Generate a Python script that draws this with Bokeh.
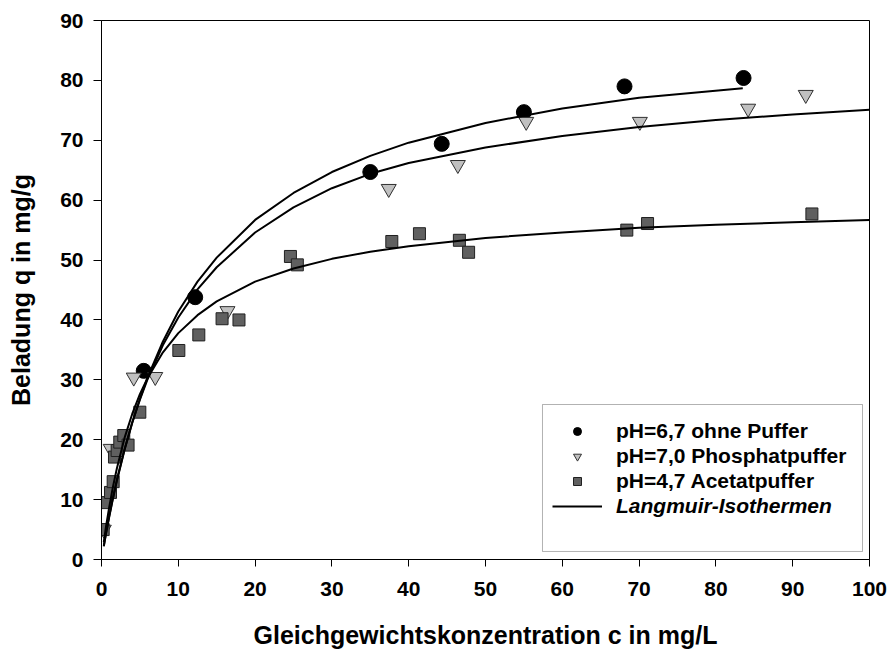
from bokeh.plotting import figure
from bokeh.models import Legend, LegendItem, FixedTicker, BoxAnnotation
from bokeh.embed import file_html
from bokeh.resources import INLINE

# ---- data ----
ph67_c = [5.5, 12.2, 35.0, 44.3, 55.0, 68.1, 83.6]
ph67_q = [31.5, 43.8, 64.7, 69.4, 74.7, 79.0, 80.4]

ph70_c = [0.3, 1.2, 4.2, 7.0, 16.4, 37.4, 46.4, 55.3, 70.1, 84.2, 91.7]
ph70_q = [5.0, 18.5, 30.4, 30.5, 41.5, 61.9, 65.9, 73.1, 73.1, 75.3, 77.6]

ph47_c = [0.22, 0.52, 1.17, 1.52, 1.69, 2.04, 2.38, 2.9, 3.46, 4.99, 10.07, 12.67,
          15.7, 17.9, 24.6, 25.5, 37.8, 41.4, 46.6, 47.8, 68.4, 71.1, 92.5]
ph47_q = [5.0, 9.5, 11.2, 13.0, 17.1, 18.2, 19.6, 20.7, 19.1, 24.6, 34.9, 37.5,
          40.2, 40.0, 50.6, 49.2, 53.1, 54.4, 53.3, 51.3, 55.0, 56.1, 57.7]

curve1_c = [0.3, 0.6, 1, 1.5, 2, 3, 4, 5, 6, 8, 10, 12.5, 15, 20, 25, 30, 35, 40, 50, 60, 70, 83.5]
curve1_q = [2.2, 4.4, 7.1, 10.2, 13.1, 18.3, 22.8, 26.8, 30.4, 36.4, 41.4, 46.4, 50.4, 56.7,
            61.2, 64.7, 67.4, 69.6, 72.9, 75.3, 77.1, 78.7]

curve_c = [0.3, 0.6, 1, 1.5, 2, 3, 4, 5, 6, 8, 10, 12.5, 15, 20, 25, 30, 35, 40, 50, 60, 70, 80, 90, 100]
curve2_q = [2.3, 4.5, 7.2, 10.4, 13.3, 18.4, 22.9, 26.7, 30.1, 35.8, 40.4, 45.1, 48.8, 54.6,
            58.8, 62.0, 64.4, 66.2, 68.8, 70.7, 72.2, 73.4, 74.3, 75.1]
curve3_q = [2.9, 5.6, 8.7, 12.2, 15.2, 20.3, 24.3, 27.6, 30.3, 34.6, 37.8, 40.8, 43.1, 46.4,
            48.6, 50.2, 51.4, 52.3, 53.7, 54.6, 55.4, 55.9, 56.3, 56.7]

x_ticks = [0, 10, 20, 30, 40, 50, 60, 70, 80, 90, 100]
y_ticks = [0, 10, 20, 30, 40, 50, 60, 70, 80, 90]

labels = ["pH=6,7 ohne Puffer", "pH=7,0 Phosphatpuffer", "pH=4,7 Acetatpuffer", "Langmuir-Isothermen"]
x_title = "Gleichgewichtskonzentration c in mg/L"
y_title = "Beladung q in mg/g"

FONT = "Liberation Sans"

p = figure(width=889, height=652, x_range=(0, 100), y_range=(0, 90),
           output_backend="svg", toolbar_location=None,
           min_border_left=101, min_border_right=20, min_border_top=20, min_border_bottom=93)
p.xgrid.grid_line_color = None
p.ygrid.grid_line_color = None
p.outline_line_color = "black"
p.outline_line_width = 1
p.background_fill_color = "white"
p.border_fill_color = "white"

r1 = p.scatter(ph67_c, ph67_q, marker="circle", size=15, fill_color="black", line_color="black")
r2 = p.scatter(ph70_c, ph70_q, marker="inverted_triangle", size=15, fill_color="#c0c0c0",
               line_color="#303030", line_width=1)
r3 = p.scatter(ph47_c, ph47_q, marker="square", size=12, fill_color="#606060",
               line_color="#202020", line_width=1)

l1 = p.line(curve1_c, curve1_q, line_color="black", line_width=2)
l2 = p.line(curve_c, curve2_q, line_color="black", line_width=2)
l3 = p.line(curve_c, curve3_q, line_color="black", line_width=2)

for ax, ticks in ((p.xaxis[0], x_ticks), (p.yaxis[0], y_ticks)):
    ax.ticker = FixedTicker(ticks=ticks)
    ax.minor_tick_line_color = None
    ax.major_tick_in = 0
    ax.axis_line_color = "black"
    ax.major_tick_line_color = "black"
    ax.major_label_text_font = FONT
    ax.major_label_text_font_style = "bold"
    ax.major_label_text_font_size = "21px"
    ax.major_label_text_color = "black"
    ax.axis_label_text_font = FONT
    ax.axis_label_text_font_style = "bold"
    ax.axis_label_text_font_size = "25px"
    ax.axis_label_text_color = "black"

p.xaxis[0].major_tick_out = 7
p.yaxis[0].major_tick_out = 8
p.xaxis[0].major_label_standoff = 15
p.yaxis[0].major_label_standoff = 10
p.xaxis[0].axis_label = x_title
p.yaxis[0].axis_label = y_title
p.xaxis[0].axis_label_standoff = 22
p.yaxis[0].axis_label_standoff = 22

# legend frame
p.add_layout(BoxAnnotation(left=57.42, right=99.09, bottom=1.34, top=25.88,
                           fill_alpha=0, line_color="black", line_width=1))

legA = Legend(items=[LegendItem(label=labels[0], renderers=[r1]),
                     LegendItem(label=labels[1], renderers=[r2]),
                     LegendItem(label=labels[2], renderers=[r3])],
              location=(451, 66))
legB = Legend(items=[LegendItem(label=labels[3], renderers=[l1])], location=(451, 41))
for lg in (legA, legB):
    lg.border_line_color = None
    lg.background_fill_alpha = 0
    lg.padding = 0
    lg.margin = 0
    lg.glyph_width = 50
    lg.glyph_height = 20
    lg.label_height = 20
    lg.spacing = 1
    lg.label_standoff = 14
    lg.label_text_font = FONT
    lg.label_text_font_size = "21px"
    lg.label_text_color = "black"
legA.label_text_font_style = "bold"
legB.label_text_font_style = "bold italic"
p.add_layout(legA, "center")
p.add_layout(legB, "center")

open("out.html", "w").write(file_html(p, INLINE))
